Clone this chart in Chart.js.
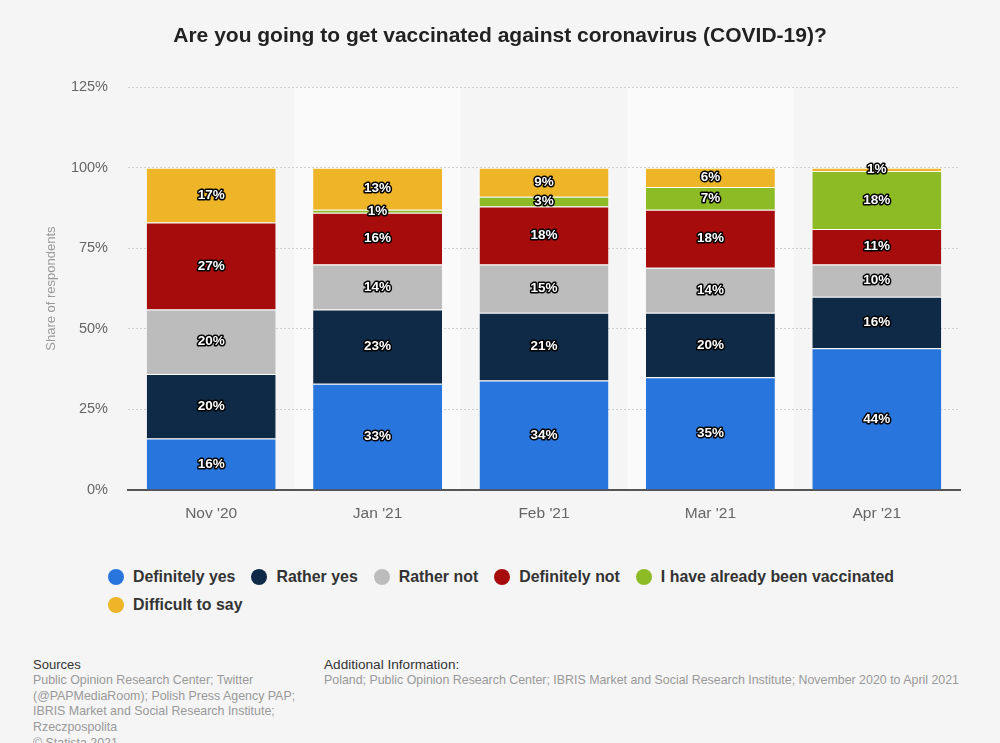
<!DOCTYPE html>
<html>
<head>
<meta charset="utf-8">
<script src="https://cdn.jsdelivr.net/npm/chart.js@4.4.1/dist/chart.umd.min.js"></script>
<style>
  html, body { margin: 0; padding: 0; background: #f5f5f5; width: 1000px; height: 743px; overflow: hidden; font-family: "Liberation Sans", Arial, sans-serif; }
  #wrap { position: absolute; left: 0; top: 0; width: 1000px; height: 530px; }
  #legend { position: absolute; left: 108px; top: 567px; width: 810px; display: flex; flex-wrap: wrap; row-gap: 8px; }
  .item { display: flex; align-items: center; margin-right: 16px; height: 20px; font-weight: bold; font-size: 15.9px; color: #333; }
  .dot { width: 16px; height: 16px; border-radius: 50%; margin-right: 9px; }
  #sources { position: absolute; left: 33px; top: 657px; width: 290px; }
  #addinfo { position: absolute; left: 324px; top: 657px; width: 676px; }
  .hd { font-size: 13px; color: #333; line-height: 16px; }
  .hd2 { font-size: 13.6px; color: #333; line-height: 16px; }
  .tx { font-size: 12.4px; color: #999; line-height: 15.7px; white-space: nowrap; }
</style>
</head>
<body>
<div id="wrap"><canvas id="c"></canvas></div>
<div id="legend"></div>
<div id="sources"><div class="hd">Sources</div><div class="tx">Public Opinion Research Center; Twitter<br>(@PAPMediaRoom); Polish Press Agency PAP;<br>IBRIS Market and Social Research Institute;<br>Rzeczpospolita<br>© Statista 2021</div></div>
<div id="addinfo"><div class="hd2">Additional Information:</div><div class="tx">Poland; Public Opinion Research Center; IBRIS Market and Social Research Institute; November 2020 to April 2021</div></div>
<script>
const categories = ["Nov '20", "Jan '21", "Feb '21", "Mar '21", "Apr '21"];
const seriesNames = ["Definitely yes", "Rather yes", "Rather not", "Definitely not", "I have already been vaccinated", "Difficult to say"];
const definitelyYes = [16, 33, 34, 35, 44];
const ratherYes = [20, 23, 21, 20, 16];
const ratherNot = [20, 14, 15, 14, 10];
const definitelyNot = [27, 16, 18, 18, 11];
const alreadyVaccinated = [null, 1, 3, 7, 18];
const difficultToSay = [17, 13, 9, 6, 1];
const yTicks = [0, 25, 50, 75, 100, 125];
const colors = ["#2876dd", "#0f2a46", "#bcbcbc", "#a60c0c", "#8cbb26", "#edb527"];

const seriesValues = [definitelyYes, ratherYes, ratherNot, definitelyNot, alreadyVaccinated, difficultToSay];
const datasets = seriesNames.map((n, i) => ({
  label: n,
  data: seriesValues[i],
  backgroundColor: colors[i],
  borderColor: '#ffffff',
  borderWidth: { top: 1, bottom: 0, left: 0, right: 0 },
  borderSkipped: false,
  categoryPercentage: 1,
  barPercentage: 0.775
}));

const bandsPlugin = {
  id: 'bands',
  beforeDraw(chart) {
    const { ctx, chartArea, scales: { x } } = chart;
    const w = (chartArea.right - chartArea.left) / categories.length;
    ctx.save();
    ctx.fillStyle = '#fafafa';
    categories.forEach((c, i) => {
      if (i % 2 === 1) {
        const cx = x.getPixelForValue(i);
        ctx.fillRect(cx - w / 2, chartArea.top, w, chartArea.bottom - chartArea.top);
      }
    });
    ctx.restore();
  }
};

const labelsPlugin = {
  id: 'vlabels',
  afterDatasetsDraw(chart) {
    const { ctx } = chart;
    ctx.save();
    ctx.font = 'bold 13.5px "Liberation Sans", Arial, sans-serif';
    ctx.textAlign = 'center';
    ctx.textBaseline = 'middle';
    ctx.lineJoin = 'round';
    ctx.lineWidth = 3;
    ctx.strokeStyle = '#000';
    ctx.fillStyle = '#fff';
    chart.data.datasets.forEach((ds, di) => {
      const meta = chart.getDatasetMeta(di);
      meta.data.forEach((bar, i) => {
        const v = ds.data[i];
        if (v === null || v === undefined) return;
        const yc = (bar.y + bar.base) / 2;
        const t = v + '%';
        ctx.strokeText(t, bar.x, yc);
        ctx.fillText(t, bar.x, yc);
      });
    });
    ctx.restore();
  }
};

new Chart(document.getElementById('c'), {
  type: 'bar',
  data: { labels: categories, datasets },
  plugins: [bandsPlugin, labelsPlugin],
  options: {
    responsive: true,
    maintainAspectRatio: false,
    animation: false,
    layout: { padding: { left: 0, right: 0, top: 0, bottom: 0 } },
    plugins: {
      legend: { display: false },
      tooltip: { enabled: false },
      title: {
        display: true,
        text: 'Are you going to get vaccinated against coronavirus (COVID-19)?',
        color: '#222',
        font: { family: '"Liberation Sans", Arial, sans-serif', size: 21, weight: 'bold' },
        padding: { top: 24, bottom: 38 }
      }
    },
    scales: {
      x: {
        stacked: true,
        grid: { display: false, drawTicks: false },
        border: { display: true, color: '#555', width: 2 },
        ticks: { color: '#666', font: { family: '"Liberation Sans", Arial, sans-serif', size: 15.5 }, padding: 14 },
        afterFit(s) { s.height = 40; }
      },
      y: {
        stacked: true,
        min: 0, max: 125,
        afterBuildTicks(s) { s.ticks = yTicks.map(v => ({ value: v })); },
        grid: { color: '#cfcfcf', drawTicks: false, lineWidth: 1 },
        border: { display: false, dash: [2, 2] },
        ticks: { color: '#666', font: { family: '"Liberation Sans", Arial, sans-serif', size: 14.5 }, padding: 20, callback: v => v + '%' },
        title: { display: true, text: 'Share of respondents', color: '#999', font: { family: '"Liberation Sans", Arial, sans-serif', size: 13 }, padding: { top: 44, bottom: 0 } },
        afterFit(s) { s.width = 128; }
      },
      yRightSpacer: {
        type: 'linear',
        position: 'right',
        display: true,
        grid: { display: false, drawTicks: false },
        border: { display: false },
        ticks: { display: false },
        afterFit(s) { s.width = 40; }
      }
    }
  }
});

const lg = document.getElementById('legend');
seriesNames.forEach((n, i) => {
  const it = document.createElement('div');
  it.className = 'item';
  const d = document.createElement('span');
  d.className = 'dot';
  d.style.background = colors[i];
  it.appendChild(d);
  it.appendChild(document.createTextNode(n));
  lg.appendChild(it);
});
</script>
</body>
</html>
